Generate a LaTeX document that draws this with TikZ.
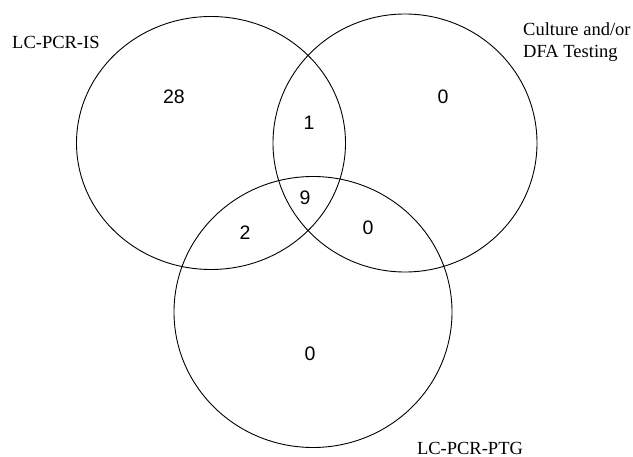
\documentclass[tikz,border=0pt]{standalone}
\usepackage{fontspec}
\setmainfont{Liberation Serif}
\setsansfont{Liberation Sans}
\usepackage{tikz}
\usetikzlibrary{shapes.geometric}

\begin{document}
\begin{tikzpicture}[x=1pt, y=-1pt,
    set/.style={draw, ellipse, line width=0.9pt, inner sep=0pt},
    setname/.style={font=\fontsize{18.5}{22}\selectfont, inner sep=0pt, align=left},
    count/.style={font=\sffamily\fontsize{19.5}{22}\selectfont, inner sep=0pt}
]
\useasboundingbox (0,0) rectangle (633,457);

% the three sets
\node [set, minimum width=269pt, minimum height=253pt] (is)  at (211,143) {};
\node [set, minimum width=264pt, minimum height=258pt] (dfa) at (405,143) {};
\node [set, minimum width=278pt, minimum height=271pt] (ptg) at (313,312) {};

% set names
\node [setname, anchor=west] (isname)  at (12,42)  {LC-PCR-IS};
\node [setname, anchor=west] (dfaname) at (523,42) {Culture and/or\\DFA Testing};
\node [setname] (ptgname) at (470,448) {LC-PCR-PTG};

% counts per region
\node [count] (nis)     at (174,97)  {28};
\node [count] (ndfa)    at (443,97)  {0};
\node [count] (nisdfa)  at (309,123) {1};
\node [count] (nall)    at (305,198) {9};
\node [count] (nisptg)  at (245,233) {2};
\node [count] (ndfaptg) at (368,228) {0};
\node [count] (nptg)    at (310,354) {0};

\end{tikzpicture}
\end{document}
